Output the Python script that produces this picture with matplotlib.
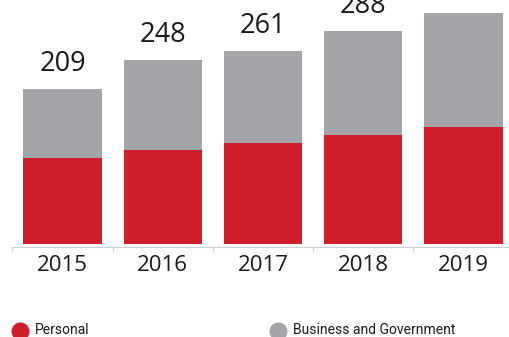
import numpy as np
import matplotlib.pyplot as plt

years = ['2015', '2016', '2017', '2018', '2019']
totals = np.array([209, 248, 261, 288, 312])
personal = np.array([116, 127, 136, 147, 158])
business = totals - personal
# the 2019 total sits above the top edge, so only the first four get a label
n_labelled = 4

red = '#D11E2D'
grey = '#A3A5A8'
legend_font = ['Roboto', 'DejaVu Sans']

fig = plt.figure(figsize=(5.09, 3.37), dpi=100)
ax = fig.add_axes([0.0244, 0.276, 0.9848, 0.7246])

x = np.arange(len(years))
ax.bar(x, personal, width=0.78, color=red, clip_on=False)
ax.bar(x, business, width=0.78, bottom=personal, color=grey, clip_on=False)

ax.set_xlim(-0.5, 4.5)
ax.set_ylim(0, 330)

# total on top of each stack
for xi, t in zip(x[:n_labelled], totals[:n_labelled]):
    ax.annotate(str(t), (xi, t), xytext=(0, 13), textcoords='offset points',
                ha='center', va='baseline', fontsize=19.5, family='Open Sans',
                color='#1a1a1a', annotation_clip=False)

# year under each bar
for xi, yr in zip(x, years):
    ax.annotate(yr, (xi, 0), xytext=(0, -19.5), textcoords='offset points',
                ha='center', va='baseline', fontsize=16, family='Open Sans',
                color='#1a1a1a', annotation_clip=False)

for s in ['top', 'right', 'left']:
    ax.spines[s].set_visible(False)
ax.spines['bottom'].set_color('#cfcfcf')
ax.spines['bottom'].set_linewidth(0.8)
ax.spines['bottom'].set_position(('outward', 2))
ax.set_yticks([])
ax.set_xticks([])
ax.set_xticks(np.arange(-0.5, 5, 1), minor=True)
ax.tick_params(axis='x', which='minor', length=3, color='#cfcfcf', width=0.8)

# legend row
legend_y = 6.5 / 337
fig.add_artist(plt.Line2D([20 / 509], [legend_y], marker='o', markersize=12,
                          color=red, linestyle='none', transform=fig.transFigure))
fig.text(35 / 509, legend_y, 'Personal', ha='left', va='center', fontsize=10,
         family=legend_font, color='#1a1a1a')
fig.add_artist(plt.Line2D([278 / 509], [legend_y], marker='o', markersize=12,
                          color=grey, linestyle='none', transform=fig.transFigure))
fig.text(293 / 509, legend_y, 'Business and Government', ha='left', va='center',
         fontsize=10, family=legend_font, color='#1a1a1a')

fig.savefig('out.png', dpi=100)
